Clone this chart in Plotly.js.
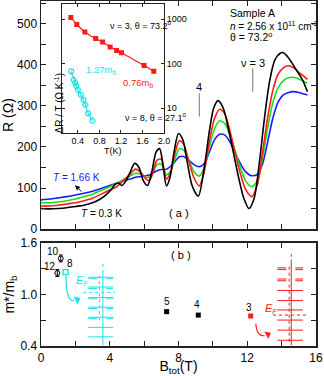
<!DOCTYPE html>
<html><head><meta charset="utf-8">
<script src="https://cdn.plot.ly/plotly-3.0.1.min.js"></script>
<style>html,body{margin:0;padding:0;background:#fff}#chart{width:324px;height:376px}</style>
</head><body><div id="chart"></div>
<script>
// ---- panel (a): R vs B_tot ----
const B_black = [0,0.5,1,1.5,2,2.5,3,3.4,3.8,4.1,4.3,4.5,4.7,4.95,5.2,5.45,5.7,5.95,6.2,6.45,6.7,6.9,7.1,7.3,7.5,7.75,8.0,8.25,8.5,8.8,9.15,9.5,9.8,10.05,10.3,10.6,10.9,11.2,11.5,11.8,12.1,12.4,12.7,13.0,13.3,13.6,13.9,14.1,14.35,14.6,14.9,15.2,15.5];
const R_black = [50,49,50,52,55,58,64,72,84,97,108,112,106,118,140,160,150,118,106,140,188,196,155,105,125,190,233,218,165,105,80,150,240,295,313,295,245,185,125,75,50,75,160,270,360,412,428,430,420,405,385,365,335];
const B_grid = [0,0.5,1,1.5,2,2.5,3,3.5,4,4.4,4.8,5.2,5.5,5.8,6.1,6.3,6.5,6.75,7.0,7.3,7.55,7.8,8.05,8.3,8.6,8.9,9.2,9.5,9.8,10.1,10.4,10.7,11.0,11.3,11.6,11.9,12.25,12.6,12.9,13.2,13.5,13.8,14.1,14.4,14.7,15.0,15.3,15.5];
const R_red = [56,56,58,61,64,69,75,85,95,103,118,135,146,138,122,118,135,168,170,122,140,185,215,207,165,125,105,140,215,270,292,280,238,185,135,97,79,110,190,275,340,378,393,398,393,382,372,365];
const R_green = [64,64,66,69,73,79,85,94,103,111,121,130,136,134,127,126,137,157,158,132,142,172,196,192,168,140,129,150,200,245,264,257,228,190,150,118,103,120,175,250,310,345,362,369,370,366,360,355];
const R_blue = [71,73,76,79,83,87,92,99,106,112,118,122,126,128,130,132,136,142,145,146,153,165,176,177,168,157,152,160,188,218,231,229,212,185,160,140,130,134,160,215,272,310,327,333,335,333,329,327];
const R_tickvals = [0,50,100,150,200,250,300,350,400,450,500,550];
const R_ticktext = ['0','','100','','200','','300','','400','','500',''];
const B_tickvals = [0,2,4,6,8,10,12,14,16];
const B_ticktext = ['0','','4','','8','','12','','16'];
const nuMarkB = [9.21, 12.32];
const nuMarkR = [[274,331],[335,392]];

// ---- inset: dR/T vs T ----
const T_nu3 = [0.27,0.38,0.53,0.73,0.86,1.0,1.12,1.21,1.63,1.81];
const dRT_nu3 = [1090,757,515,365,305,235,198,175,90,67];
const T_nu8 = [0.275,0.32,0.35,0.37,0.40,0.455,0.505,0.54,0.59,0.67];
const dRT_nu8 = [67,43,36.6,31.6,25.7,19.9,15.2,11.8,7.6,5.2];
const T_tickvals = [0.4,0.8,1.2,1.6,2.0];
const T_ticktext = ['0.4','0.8','1.2','1.6','2.0'];
const dRT_tickvals = [10,100,1000];
const dRT_ticktext = ['10','100','1000'];

// ---- panel (b): m*/m_b vs B_tot ----
const pbOpenB = [0.95,1.15];
const pbOpenM = [1.25,1.42];
const pbOpenErr = [0.04,0.04];
const pbOpenLbl = ['12','10'];
const pbFillB = [7.31,9.15];
const pbFillM = [0.80,0.76];
const pbFillErr = [0.015,0.015];
const pbFillLbl = ['5','4'];
const nu8B = [1.43], nu8M = [1.26];
const nu3B = [12.2], nu3M = [0.75];
const m_tickvals = [0.4,0.7,1.0,1.3,1.6];
const m_ticktext = ['0.4','','1.0','','1.6'];
// schematic Landau levels
const cyanLevels = [1.200,1.087,0.965,0.852,0.735,0.617,0.507];
const cyanSplit = 5;
const cyanSpan = [2.75,4.2];
const cyanStem = [3.6,0.41,1.25,1.36];
const cyanEF = [1.022,2.46,4.3];
const redLevels = [1.31,1.18,1.047,0.929,0.82,0.702,0.585,0.467];
const redSplit = 2;
const redSpan = [13.75,15.24];
const redStem = [14.56,0.41,1.37,1.47];
const redEF = [0.76,13.5,15.5];
const cyanArrow = [[1.454,1.22],[1.44,0.92],[1.92,0.93]];
const cyanHead = [[1.92,0.975],[2.29,0.955],[2.11,0.89]];
const redArrow = [[12.5,0.66],[12.55,0.51],[13.0,0.52]];
const redHead = [[13.02,0.565],[13.36,0.55],[13.22,0.49]];

const FONT = 'Liberation Sans, Arial, sans-serif';
const CYAN = '#19e3ea', RED = '#ff1a1a', GREEN = '#16e016', BLUE = '#1a1aff';

const traces = [
  {x:B_grid,y:R_blue,mode:'lines',line:{color:BLUE,width:1.6,shape:'spline',smoothing:0.8},xaxis:'x',yaxis:'y'},
  {x:B_grid,y:R_green,mode:'lines',line:{color:GREEN,width:1.6,shape:'spline',smoothing:0.8},xaxis:'x',yaxis:'y'},
  {x:B_grid,y:R_red,mode:'lines',line:{color:RED,width:1.6,shape:'spline',smoothing:0.8},xaxis:'x',yaxis:'y'},
  {x:B_black,y:R_black,mode:'lines',line:{color:'#000',width:1.6,shape:'spline',smoothing:0.8},xaxis:'x',yaxis:'y'},
  {x:T_nu3,y:dRT_nu3,mode:'lines+markers',line:{color:RED,width:1.2,shape:'spline'},marker:{color:RED,size:5,symbol:'square'},xaxis:'x3',yaxis:'y3'},
  {x:T_nu8,y:dRT_nu8,mode:'lines+markers',line:{color:CYAN,width:1.2},marker:{color:CYAN,size:5,symbol:'circle-open',line:{color:CYAN,width:1.2}},xaxis:'x3',yaxis:'y3'},
  {x:pbOpenB,y:pbOpenM,mode:'markers',marker:{symbol:'circle-open',size:5,color:'#000',line:{width:1}},error_y:{type:'data',array:pbOpenErr,visible:true,thickness:1,width:2,color:'#000'},xaxis:'x2',yaxis:'y2'},
  {x:pbFillB,y:pbFillM,mode:'markers',marker:{symbol:'square',size:5,color:'#000'},error_y:{type:'data',array:pbFillErr,visible:true,thickness:1,width:2,color:'#000'},xaxis:'x2',yaxis:'y2'},
  {x:nu8B,y:nu8M,mode:'markers',marker:{symbol:'square-open',size:5,color:CYAN,line:{width:1.4,color:CYAN}},xaxis:'x2',yaxis:'y2'},
  {x:nu3B,y:nu3M,mode:'markers',marker:{symbol:'square',size:5,color:RED},xaxis:'x2',yaxis:'y2'}
];

const shapes = [];
function ln(x0,y0,x1,y1,color,dash,w,xr,yr){shapes.push({type:'line',x0:x0,y0:y0,x1:x1,y1:y1,xref:xr||'x2',yref:yr||'y2',line:{color:color,width:w||1,dash:dash||'solid'},layer:'above'});}
nuMarkB.forEach((b,i)=>ln(b,nuMarkR[i][0],b,nuMarkR[i][1],'#777','solid',1,'x','y'));
cyanLevels.forEach((v,i)=>{
  ln(cyanSpan[0],v,cyanSpan[1],v,CYAN,'solid',1);
  if(i<cyanSplit) ln(cyanSpan[0],v-0.016,cyanSpan[1],v-0.016,CYAN,'dash',1);
});
ln(cyanStem[0],cyanStem[1],cyanStem[0],cyanStem[2],CYAN,'solid',1);
ln(cyanStem[0],cyanStem[2],cyanStem[0],cyanStem[3],CYAN,'dot',1);
ln(cyanStem[0]-0.2,0.70,cyanStem[0]-0.2,1.22,CYAN,'dot',1);
ln(cyanEF[1],cyanEF[0],cyanEF[2],cyanEF[0],CYAN,'dot',1);
redLevels.forEach((v,i)=>{
  ln(redSpan[0],v,redSpan[1],v,RED,i<redSplit?'dash':'solid',1);
  if(i<redSplit) ln(redSpan[0],v-0.02,redSpan[1],v-0.02,RED,'dash',1);
});
ln(redStem[0],redStem[1],redStem[0],redStem[2],RED,'solid',1);
ln(redStem[0],redStem[2],redStem[0],redStem[3],RED,'dot',1);
ln(redStem[0]-0.12,0.45,redStem[0]-0.12,1.33,RED,'dot',1);
ln(redEF[1],redEF[0],redEF[2],redEF[0],RED,'dot',1);
function curve(p,color){shapes.push({type:'path',xref:'x2',yref:'y2',path:`M ${p[0][0]},${p[0][1]} Q ${p[1][0]},${p[1][1]} ${p[2][0]},${p[2][1]}`,line:{color:color,width:1.2},layer:'above'});}
function tri(p,color){shapes.push({type:'path',xref:'x2',yref:'y2',path:`M ${p[0][0]},${p[0][1]} L ${p[1][0]},${p[1][1]} L ${p[2][0]},${p[2][1]} Z`,fillcolor:color,line:{color:color,width:0.5},layer:'above'});}
curve(cyanArrow,CYAN); tri(cyanHead,CYAN);
curve(redArrow,RED); tri(redHead,RED);

function A(text,x,y,opt){return Object.assign({text:text,x:x,y:y,xref:'x',yref:'y',showarrow:false,borderpad:0,font:{size:11,color:'#000',family:FONT}},opt||{});}
function F(size,color){return {size:size,color:color||'#000',family:FONT};}
const annotations = [
  A('Sample A',10.95,526,{xanchor:'left',font:F(10.5)}),
  A('<i>n</i> = 2.56 x 10<sup>11</sup> cm<sup>-2</sup>',10.95,496,{xanchor:'left',font:F(10)}),
  A('θ = 73.2<sup>o</sup>',10.95,470,{xanchor:'left',font:F(10.5)}),
  A('ν = 3',12.33,404),
  A('4',9.21,347),
  A('<i>T</i> = 1.66 K',2.08,126,{font:F(10,BLUE)}),
  A('<i>T</i> = 0.3 K',3.5,39,{font:F(10)}),
  A('( a )',8.03,38),
  A('',1.98,107,{showarrow:true,ax:7,ay:7,arrowhead:2,arrowsize:1,arrowwidth:1,arrowcolor:'#000'}),
  // inset texts (paper coords)
  A('ν = 3, θ = 73.2<sup>o</sup>',0.2480,0.9507,{xref:'paper',yref:'paper',font:F(9)}),
  A('1.27m<sub>b</sub>',0.16,0.8194,{xref:'paper',yref:'paper',font:F(9.5,CYAN)}),
  A('0.76m<sub>b</sub>',0.3527,0.7826,{xref:'paper',yref:'paper',font:F(9.5,RED)}),
  A('ν = 8, θ = 27.1<sup>o</sup>',0.3000,0.6646,{xref:'paper',yref:'paper',font:F(9)}),
  A('ΔR / T (Ω K<sup>-1</sup>)',0.0364,0.7942,{xref:'paper',yref:'paper',textangle:-90,font:F(10)}),
  // panel b
  A('( b )',8.14,1.455,{xref:'x2',yref:'y2'}),
  A('<i>E</i><sub><i>F</i></sub>',2.39,1.153,{xref:'x2',yref:'y2',font:F(11,CYAN)}),
  A('<i>E</i><sub><i>F</i></sub>',13.4,0.83,{xref:'x2',yref:'y2',font:F(11,RED)}),
  A(pbOpenLbl[1],0.70,1.505,{xref:'x2',yref:'y2',font:F(10)}),
  A(pbOpenLbl[0],0.50,1.33,{xref:'x2',yref:'y2',font:F(10)}),
  A('8',1.67,1.36,{xref:'x2',yref:'y2',font:F(10)}),
  A(pbFillLbl[0],7.31,0.918,{xref:'x2',yref:'y2',font:F(10)}),
  A(pbFillLbl[1],9.07,0.887,{xref:'x2',yref:'y2',font:F(10)}),
  A('3',12.12,0.847,{xref:'x2',yref:'y2',font:F(10)})
];

const axCommon = {showline:true,linecolor:'#222',linewidth:1.5,mirror:'ticks',ticks:'inside',ticklen:5,tickwidth:1,tickcolor:'#222',showgrid:false,zeroline:false,automargin:false,tickfont:{size:12,family:FONT,color:'#000'}};
const layout = {
  width:324,height:376,margin:{l:41,r:8,t:1,b:30},
  paper_bgcolor:'#fff',plot_bgcolor:'#fff',showlegend:false,
  font:{family:FONT,color:'#000'},
  xaxis:Object.assign({},axCommon,{domain:[0,1],range:[0,16],tickvals:B_tickvals,showticklabels:false,anchor:'y'}),
  yaxis:Object.assign({},axCommon,{domain:[0.3391,1],range:[0,556],tickvals:R_tickvals,ticktext:R_ticktext,anchor:'x',title:{text:'R (Ω)',font:{size:14,family:FONT},standoff:1}}),
  xaxis2:Object.assign({},axCommon,{domain:[0,1],range:[0,16],tickvals:B_tickvals,ticktext:B_ticktext,anchor:'y2',title:{text:'B<sub>tot</sub>(T)',font:{size:14,family:FONT},standoff:3}}),
  yaxis2:Object.assign({},axCommon,{domain:[0,0.2986],range:[0.4,1.6],tickvals:m_tickvals,ticktext:m_ticktext,anchor:'x2',title:{text:'m*/m<sub>b</sub>',font:{size:14,family:FONT},standoff:2}}),
  xaxis3:Object.assign({},axCommon,{domain:[0.0753,0.4473],range:[0.1,2.0],tickvals:T_tickvals,ticktext:T_ticktext,anchor:'y3',linewidth:1,ticklen:3,tickfont:{size:9,family:FONT},title:{text:'T(K)',font:{size:9,family:FONT},standoff:2}}),
  yaxis3:Object.assign({},axCommon,{domain:[0.6183,0.9913],type:'log',range:[0.445,3.34],tickvals:dRT_tickvals,ticktext:dRT_ticktext,side:'right',anchor:'x3',linewidth:1,ticklen:3,tickfont:{size:9,family:FONT}}),
  shapes:shapes,annotations:annotations
};
Plotly.newPlot('chart',traces,layout,{staticPlot:true,displayModeBar:false});
</script></body></html>
